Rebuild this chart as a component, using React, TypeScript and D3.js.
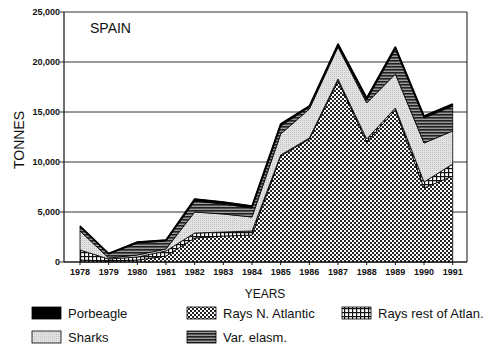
import React from "react";
import * as d3 from "d3";

const years = [1978, 1979, 1980, 1981, 1982, 1983, 1984, 1985, 1986, 1987, 1988, 1989, 1990, 1991];
const raysNAtlantic = [200, 100, 200, 600, 2400, 2600, 2700, 10600, 12300, 18100, 12000, 15200, 7400, 8600];
const raysRestAtlan = [1000, 200, 300, 500, 500, 400, 400, 100, 100, 200, 300, 200, 600, 1200];
const sharks = [1900, 100, 200, 200, 2100, 1800, 1400, 2100, 2900, 3200, 3600, 3400, 3900, 3300];
const varElasm = [400, 400, 1200, 800, 1100, 1000, 900, 800, 200, 100, 300, 2500, 2500, 2500];
const porbeagle = [100, 50, 100, 100, 200, 200, 200, 200, 100, 200, 200, 200, 200, 200];
const yTicks = [0, 5000, 10000, 15000, 20000, 25000];

const keys = ["rna", "rest", "sharks", "var", "porb"];
const fills: Record<string, string> = {
  rna: "url(#pRna)",
  rest: "url(#pRest)",
  sharks: "url(#pSharks)",
  var: "url(#pVar)",
  porb: "#000",
};

export default function App() {
  const W = 500, H = 360;
  const left = 64, right = 467, top = 12, bottom = 262;
  const x = d3.scaleLinear().domain([1978, 1991]).range([80, 452.7]);
  const y = d3.scaleLinear().domain([0, 25000]).range([bottom, top]);
  const table = years.map((yr, i) => ({
    year: yr,
    rna: raysNAtlantic[i],
    rest: raysRestAtlan[i],
    sharks: sharks[i],
    var: varElasm[i],
    porb: porbeagle[i],
  }));
  const series = d3.stack<any>().keys(keys)(table);
  const area = d3
    .area<any>()
    .x((d) => x(d.data.year))
    .y0((d) => y(d[0]))
    .y1((d) => y(d[1]));
  const fmt = d3.format(",");
  const font = "'Liberation Sans', Arial, sans-serif";

  const legend = [
    { key: "porb", label: "Porbeagle", lx: 32, ly: 307 },
    { key: "rna", label: "Rays N. Atlantic", lx: 187, ly: 307 },
    { key: "rest", label: "Rays rest of Atlan.", lx: 342, ly: 307 },
    { key: "sharks", label: "Sharks", lx: 32, ly: 331 },
    { key: "var", label: "Var. elasm.", lx: 187, ly: 331 },
  ];

  return (
    <svg width={W} height={H} style={{ position: "absolute", left: 0, top: 0, background: "#fff" }} fontFamily={font}>
      <defs>
        <pattern id="pRna" width="4" height="4" patternUnits="userSpaceOnUse">
          <rect width="4" height="4" fill="#fff" />
          <rect x="0" y="0" width="2" height="2" fill="#222" />
          <rect x="2" y="2" width="2" height="2" fill="#222" />
        </pattern>
        <pattern id="pRest" width="4" height="4" patternUnits="userSpaceOnUse">
          <rect width="4" height="4" fill="#fff" />
          <rect x="0" y="0" width="4" height="1.2" fill="#111" />
          <rect x="0" y="0" width="1.2" height="4" fill="#111" />
        </pattern>
        <pattern id="pSharks" width="2" height="2" patternUnits="userSpaceOnUse">
          <rect width="2" height="2" fill="#e2e2e2" />
          <rect x="0" y="0" width="1" height="1" fill="#c4c4c4" />
        </pattern>
        <pattern id="pVar" width="3" height="3" patternUnits="userSpaceOnUse">
          <rect width="3" height="3" fill="#9a9a9a" />
          <rect x="0" y="0" width="3" height="1.6" fill="#222" />
        </pattern>
      </defs>

      {/* gridlines */}
      {yTicks.map((t) => (
        <line key={t} x1={left - 4} x2={right} y1={y(t)} y2={y(t)} stroke="#333" strokeWidth={1} />
      ))}

      {/* areas */}
      {series.map((s) => (
        <path key={s.key} d={area(s) || ""} fill={fills[s.key]} stroke="#000" strokeWidth={0.8} strokeLinejoin="round" />
      ))}
      <path
        d={d3.line<any>().x((d) => x(d.data.year)).y((d) => y(d[1]))(series[series.length - 1]) || ""}
        fill="none"
        stroke="#000"
        strokeWidth={1.6}
        strokeLinejoin="round"
      />

      {/* frame */}
      <line x1={left} x2={left} y1={top} y2={bottom} stroke="#111" strokeWidth={1.2} />
      <line x1={right} x2={right} y1={top} y2={bottom} stroke="#111" strokeWidth={1} />
      <line x1={left} x2={right} y1={bottom} y2={bottom} stroke="#111" strokeWidth={1.2} />

      {/* y ticks */}
      {yTicks.map((t) => (
        <text key={t} x={left - 4} y={y(t) + 3} textAnchor="end" fontSize={9} fontWeight="bold" fill="#111">
          {fmt(t)}
        </text>
      ))}

      {/* x ticks */}
      {years.map((yr) => (
        <g key={yr}>
          <line x1={x(yr)} x2={x(yr)} y1={bottom} y2={bottom + 3} stroke="#111" />
          <text x={x(yr)} y={bottom + 13} textAnchor="middle" fontSize={9} fontWeight="bold" fill="#111">
            {yr}
          </text>
        </g>
      ))}

      <text x={90} y={33} fontSize={14} fill="#111">SPAIN</text>
      <text transform="translate(24,140) rotate(-90)" textAnchor="middle" fontSize={14} fill="#111">TONNES</text>
      <text x={265} y={298} textAnchor="middle" fontSize={12} fill="#111">YEARS</text>

      {legend.map((l) => (
        <g key={l.key}>
          <rect x={l.lx} y={l.ly} width={29} height={12} fill={fills[l.key]} stroke="#000" strokeWidth={0.8} />
          <text x={l.lx + 36} y={l.ly + 11} fontSize={13} fill="#111">{l.label}</text>
        </g>
      ))}
    </svg>
  );
}
